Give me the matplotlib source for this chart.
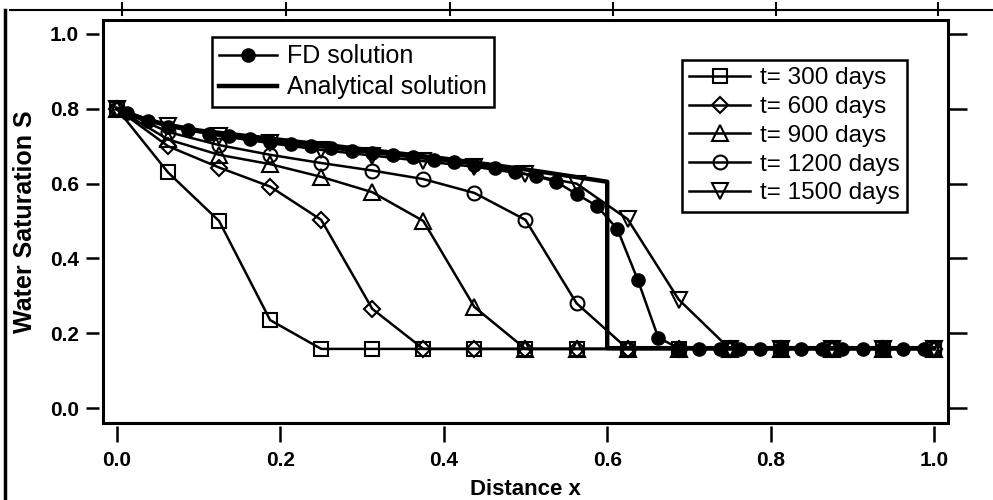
import matplotlib
matplotlib.use('Agg')
import matplotlib.pyplot as plt
from matplotlib.lines import Line2D
from matplotlib.patches import Rectangle

plt.rcParams['font.family'] = ['Liberation Sans', 'DejaVu Sans']

# grid of the open-marker runs (17 nodes)
x_nodes = [0.0, 0.0625, 0.125, 0.1875, 0.25, 0.3125, 0.375, 0.4375, 0.5,
           0.5625, 0.625, 0.6875, 0.75, 0.8125, 0.875, 0.9375, 1.0]

s_300 = [0.80, 0.63, 0.50, 0.235, 0.158, 0.158, 0.158, 0.158, 0.158,
         0.158, 0.158, 0.158, 0.158, 0.158, 0.158, 0.158, 0.158]
s_600 = [0.80, 0.70, 0.643, 0.592, 0.503, 0.265, 0.158, 0.158, 0.158,
         0.158, 0.158, 0.158, 0.158, 0.158, 0.158, 0.158, 0.158]
s_900 = [0.80, 0.718, 0.677, 0.652, 0.618, 0.577, 0.50, 0.27, 0.158,
         0.158, 0.158, 0.158, 0.158, 0.158, 0.158, 0.158, 0.158]
s_1200 = [0.80, 0.738, 0.703, 0.677, 0.655, 0.635, 0.612, 0.575, 0.503,
          0.28, 0.158, 0.158, 0.158, 0.158, 0.158, 0.158, 0.158]
s_1500 = [0.80, 0.755, 0.728, 0.708, 0.69, 0.675, 0.66, 0.645, 0.625,
          0.60, 0.505, 0.29, 0.158, 0.158, 0.158, 0.158, 0.158]

# FD solution (cell centres, 40 cells)
x_fd = [0.0125, 0.0375, 0.0625, 0.0875, 0.1125, 0.1375, 0.1625, 0.1875,
        0.2125, 0.2375, 0.2625, 0.2875, 0.3125, 0.3375, 0.3625, 0.3875,
        0.4125, 0.4375, 0.4625, 0.4875, 0.5125, 0.5375, 0.5625, 0.5875,
        0.6125, 0.6375, 0.6625, 0.6875, 0.7125, 0.7375, 0.7625, 0.7875,
        0.8125, 0.8375, 0.8625, 0.8875, 0.9125, 0.9375, 0.9625, 0.9875]
s_fd = [0.79, 0.768, 0.752, 0.742, 0.733, 0.726, 0.719, 0.712,
        0.706, 0.70, 0.694, 0.688, 0.682, 0.676, 0.670, 0.664,
        0.658, 0.651, 0.642, 0.632, 0.62, 0.605, 0.572, 0.54,
        0.478, 0.342, 0.188, 0.16, 0.158, 0.158, 0.158, 0.158,
        0.158, 0.158, 0.158, 0.158, 0.158, 0.158, 0.158, 0.158]

# analytical (Buckley-Leverett) solution
x_an = [0.0, 0.03, 0.06, 0.1, 0.2, 0.3, 0.4, 0.5, 0.6, 0.6, 1.0]
s_an = [0.80, 0.775, 0.758, 0.742, 0.717, 0.692, 0.667, 0.638, 0.605, 0.16, 0.16]

xticks = [0.0, 0.2, 0.4, 0.6, 0.8, 1.0]
yticks = [0.0, 0.2, 0.4, 0.6, 0.8, 1.0]

fig = plt.figure(figsize=(9.93, 5.0), dpi=100)
ax = fig.add_axes([0.1037, 0.154, 0.851, 0.806])

# detached axes (ticks offset from the frame); set before styling ticks
for sp in ax.spines.values():
    sp.set_color('none')
ax.spines['left'].set_position(('outward', 3))
ax.spines['bottom'].set_position(('outward', 2))

lw = 1.8
mew = 1.5

l_an, = ax.plot(x_an, s_an, '-', color='black', lw=3.2, label='Analytical solution')
runs = [(s_300, 's', 't= 300 days', 10), (s_600, 'D', 't= 600 days', 8.5),
        (s_900, '^', 't= 900 days', 11), (s_1200, 'o', 't= 1200 days', 10),
        (s_1500, 'v', 't= 1500 days', 11)]
run_handles = []
for s, m, lab, size in runs:
    h, = ax.plot(x_nodes, s, '-', marker=m, color='black', lw=lw,
                 mfc='none', mec='black', mew=mew, ms=size, label=lab)
    run_handles.append(h)
l_fd, = ax.plot(x_fd, s_fd, '-', marker='o', color='black', lw=lw,
                mfc='black', mec='black', ms=9.5, label='FD solution')

ax.set_xlim(-0.0171, 1.0171)
ax.set_ylim(-0.0401, 1.0374)
ax.set_xticks(xticks)
ax.set_yticks(yticks)
ax.set_xticklabels(['%.1f' % v for v in xticks])
ax.set_yticklabels(['%.1f' % v for v in yticks])
ax.tick_params(axis='x', direction='out', length=11.5, width=1.8, pad=7, labelsize=15)
ax.tick_params(axis='y', direction='out', length=9.5, width=1.8, pad=5, labelsize=15)
for t in ax.get_xticklabels() + ax.get_yticklabels():
    t.set_fontweight('bold')

ax.add_patch(Rectangle((0, 0), 1, 1, transform=ax.transAxes, fill=False,
                       lw=2.2, ec='black', clip_on=False, zorder=5))

# right-hand ticks without labels
ax_r = ax.twinx()
ax_r.set_ylim(ax.get_ylim())
ax_r.set_yticks(yticks)
ax_r.set_yticklabels([])
for sp in ax_r.spines.values():
    sp.set_color('none')
ax_r.tick_params(axis='y', direction='out', length=14, width=1.8)

ax.set_xlabel('Distance x', fontweight='bold', fontsize=16, labelpad=6)
ax.set_ylabel('Water Saturation S', fontweight='bold', fontsize=18, labelpad=9)

leg1 = ax.legend(handles=[l_fd, l_an], loc='upper left',
                 bbox_to_anchor=(0.129, 0.958), fontsize=18, fancybox=False,
                 edgecolor='black', framealpha=1, handlelength=2.3,
                 handletextpad=0.4, labelspacing=0.28, borderpad=0.3,
                 borderaxespad=0)
leg1.get_frame().set_linewidth(1.8)
ax.add_artist(leg1)
leg2 = ax.legend(handles=run_handles, loc='upper left',
                 bbox_to_anchor=(0.685, 0.901), fontsize=17.5, fancybox=False,
                 edgecolor='black', framealpha=1, handlelength=2.5,
                 handletextpad=0.4, labelspacing=0.28, borderpad=0.3,
                 borderaxespad=0)
leg2.get_frame().set_linewidth(1.8)

# scanned page edges: line above with ticks, and left border
fig.add_artist(Line2D([10 / 993, 1.0], [0.98, 0.98], color='black', lw=1.5))
for px in [122, 286, 450, 613, 776, 938]:
    fig.add_artist(Line2D([px / 993, px / 993], [0.97, 0.995], color='black', lw=1.5))
fig.add_artist(Line2D([5 / 993, 5 / 993], [0.0, 0.98], color='black', lw=2.5))

fig.savefig('out.png', dpi=100)
